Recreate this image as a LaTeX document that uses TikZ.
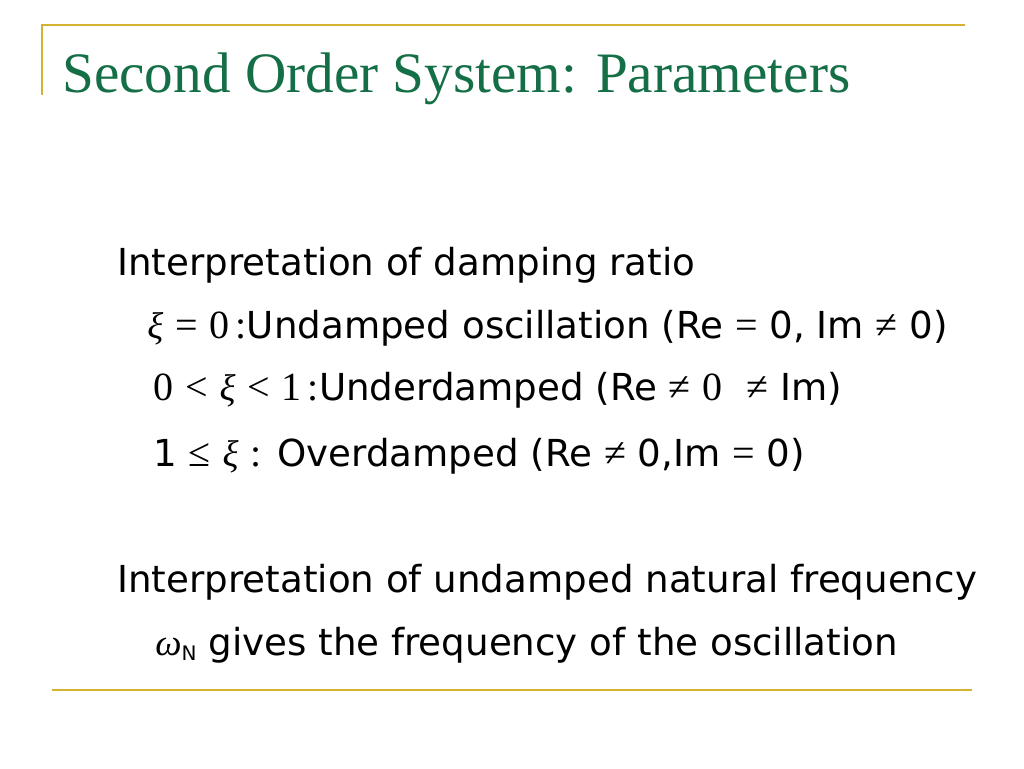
\documentclass[tikz,border=0pt]{standalone}
\usepackage{fontspec}
\setmainfont{DejaVu Sans}
\newfontfamily\titlefont{Liberation Serif}
\newfontfamily\mathserif{Liberation Serif}
\usetikzlibrary{positioning}
\definecolor{rulegold}{RGB}{214,178,52}
\definecolor{titlegreen}{RGB}{20,110,70}
\newcommand{\xs}{{\mathserif\itshape\char"03BE}}
\newcommand{\ws}{{\mathserif\itshape\char"03C9}}
\newcommand{\sv}[1]{{\mathserif\fontsize{20}{22}\selectfont #1}}
\begin{document}
\begin{tikzpicture}[x=0.5pt,y=-0.5pt,
    rulesty/.style={draw=rulegold, line width=1.2pt},
    linesty/.style={anchor=base west, inner sep=0pt, font=\fontsize{18.6}{22}\selectfont}]
    \useasboundingbox (0,0) rectangle (1024,768);
    \draw[rulesty] (42,95) -- (42,25) -- (965,25);
    \draw[rulesty] (52,690) -- (972,690);
    \node (title) at (62,92) [anchor=base west, inner sep=0pt, text=titlegreen,
        font=\titlefont\fontsize{28.6}{32}\selectfont] {Second Order System: Parameters};
    \node (line 1) at (117,275) [linesty] {Interpretation of damping ratio};
    \node (line 2) at (147,338) [linesty] {\xs\ \sv{=} \sv{0}\,\sv{:}Undamped oscillation (Re \sv{=} 0, Im \sv{≠} 0)};
    \node (line 3) at (153,400) [linesty] {\sv{0} \sv{<} \xs\ \sv{<} \sv{1}\,\sv{:}Underdamped (Re \sv{≠} \sv{0} \ \sv{≠} Im)};
    \node (line 4) at (153,466) [linesty] {1 \sv{≤} \xs\ \sv{:} Overdamped (Re \sv{≠} 0,Im \sv{=} 0)};
    \node (line 5) at (117,592) [linesty] {Interpretation of undamped natural frequency};
    \node (line 6) at (155,655) [linesty] {\ws\raisebox{-0.25ex}{\fontsize{10}{12}\selectfont N} gives the frequency of the oscillation};
\end{tikzpicture}
\end{document}
